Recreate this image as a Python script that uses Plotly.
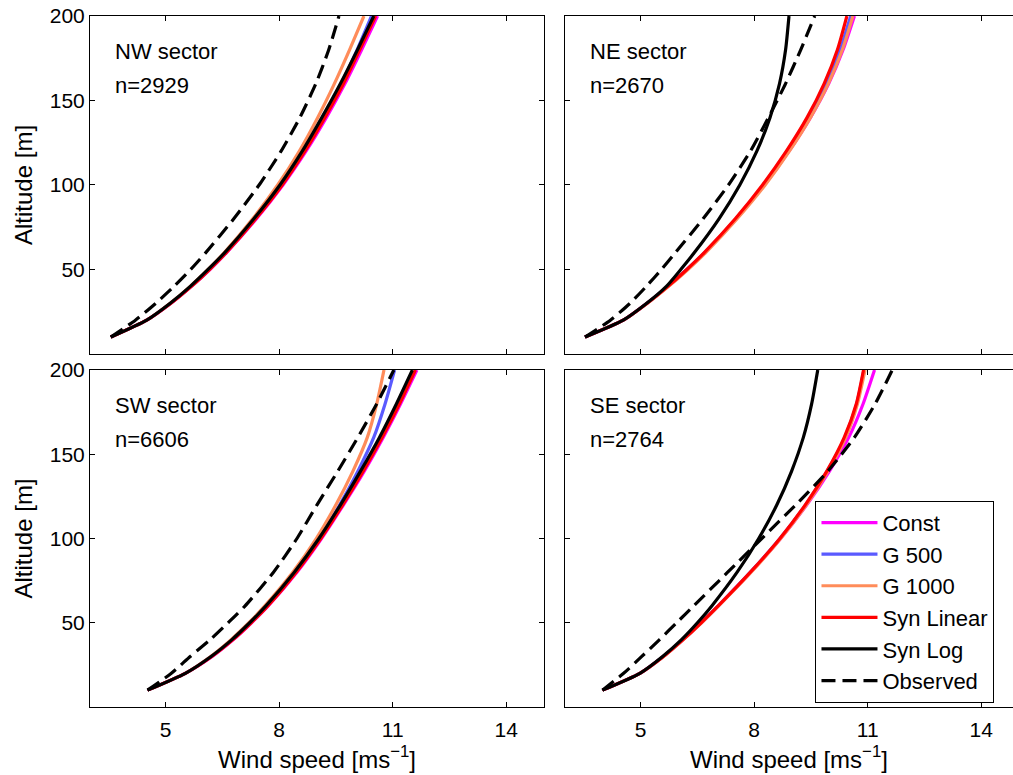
import plotly.graph_objects as go

# ---------------- data ----------------
altitude = [10, 20, 30, 40, 50, 60, 80, 100, 120, 140, 160, 180, 200]
series_names = ["Const", "G 500", "G 1000", "Syn Linear", "Syn Log", "Observed"]
x_ticks = [5, 8, 11, 14]
y_ticks = [50, 100, 150, 200]

sector_labels = ["NW sector", "NE sector", "SW sector", "SE sector"]
sector_counts = ["n=2929", "n=2670", "n=6606", "n=2764"]

nw_const  = [3.55, 4.50, 5.14, 5.68, 6.17, 6.61, 7.40, 8.10, 8.71, 9.25, 9.74, 10.18, 10.60]
nw_g500   = [3.55, 4.50, 5.13, 5.67, 6.15, 6.59, 7.37, 8.05, 8.65, 9.17, 9.64, 10.06, 10.44]
nw_g1000  = [3.55, 4.50, 5.12, 5.65, 6.12, 6.55, 7.30, 7.96, 8.53, 9.02, 9.46, 9.86, 10.24]
nw_synlin = [3.55, 4.50, 5.14, 5.68, 6.16, 6.60, 7.38, 8.08, 8.68, 9.21, 9.70, 10.13, 10.55]
nw_synlog = [3.55, 4.50, 5.12, 5.65, 6.12, 6.56, 7.33, 8.02, 8.61, 9.13, 9.62, 10.07, 10.50]
nw_obs    = [3.55, 4.20, 4.74, 5.22, 5.66, 6.06, 6.80, 7.47, 8.05, 8.55, 8.97, 9.31, 9.58]

ne_const  = [3.53, 4.54, 5.17, 5.72, 6.23, 6.70, 7.53, 8.27, 8.92, 9.49, 9.97, 10.35, 10.65]
ne_g500   = [3.53, 4.54, 5.17, 5.72, 6.22, 6.69, 7.52, 8.25, 8.89, 9.45, 9.91, 10.27, 10.55]
ne_g1000  = [3.53, 4.54, 5.18, 5.74, 6.25, 6.72, 7.55, 8.29, 8.93, 9.49, 9.96, 10.33, 10.61]
ne_synlin = [3.53, 4.54, 5.17, 5.72, 6.22, 6.68, 7.50, 8.22, 8.85, 9.40, 9.85, 10.20, 10.45]
ne_synlog = [3.53, 4.54, 5.16, 5.68, 6.06, 6.42, 7.07, 7.62, 8.07, 8.42, 8.67, 8.83, 8.92]
ne_obs    = [3.53, 4.20, 4.72, 5.15, 5.55, 5.92, 6.65, 7.32, 7.90, 8.38, 8.83, 9.23, 9.60]

sw_const  = [4.52, 5.52, 6.23, 6.79, 7.27, 7.71, 8.47, 9.12, 9.70, 10.25, 10.75, 11.21, 11.64]
sw_g500   = [4.52, 5.52, 6.20, 6.75, 7.22, 7.65, 8.40, 9.05, 9.60, 10.08, 10.50, 10.80, 11.05]
sw_g1000  = [4.52, 5.52, 6.19, 6.73, 7.20, 7.62, 8.36, 8.98, 9.50, 9.95, 10.33, 10.58, 10.77]
sw_synlin = [4.52, 5.52, 6.22, 6.78, 7.26, 7.70, 8.45, 9.10, 9.68, 10.22, 10.72, 11.18, 11.60]
sw_synlog = [4.52, 5.52, 6.20, 6.75, 7.22, 7.65, 8.40, 9.05, 9.62, 10.15, 10.65, 11.10, 11.52]
sw_obs    = [4.52, 5.15, 5.65, 6.18, 6.65, 7.10, 7.85, 8.47, 9.00, 9.55, 10.08, 10.58, 11.03]

se_const  = [3.99, 4.98, 5.60, 6.12, 6.60, 7.05, 7.91, 8.70, 9.39, 9.99, 10.50, 10.88, 11.18]
se_g500   = [3.99, 4.98, 5.60, 6.12, 6.60, 7.05, 7.90, 8.68, 9.36, 9.93, 10.40, 10.71, 10.90]
se_g1000  = [3.99, 4.98, 5.61, 6.13, 6.61, 7.06, 7.92, 8.70, 9.38, 9.95, 10.42, 10.73, 10.93]
se_synlin = [3.99, 4.98, 5.60, 6.12, 6.60, 7.05, 7.90, 8.68, 9.35, 9.92, 10.38, 10.70, 10.89]
se_synlog = [3.99, 4.98, 5.58, 6.08, 6.50, 6.88, 7.55, 8.12, 8.60, 8.99, 9.30, 9.52, 9.68]
se_obs    = [3.99, 4.55, 5.03, 5.50, 5.95, 6.40, 7.30, 8.20, 9.10, 9.95, 10.65, 11.20, 11.65]

sectors = [
    [nw_const, nw_g500, nw_g1000, nw_synlin, nw_synlog, nw_obs],
    [ne_const, ne_g500, ne_g1000, ne_synlin, ne_synlog, ne_obs],
    [sw_const, sw_g500, sw_g1000, sw_synlin, sw_synlog, sw_obs],
    [se_const, se_g500, se_g1000, se_synlin, se_synlog, se_obs],
]

# ---------------- styles ----------------
colors = ["#FF00FF", "#5A5AFF", "#FF8C5A", "#FF0000", "#000000", "#000000"]
dashes = ["solid", "solid", "solid", "solid", "solid", "14px,7px"]
FONT = "Liberation Sans, Arial, sans-serif"

fig = go.Figure()
for i, series in enumerate(sectors):
    ax = "" if i == 0 else str(i + 1)
    for j, vals in enumerate(series):
        fig.add_trace(go.Scatter(
            x=vals, y=altitude, mode="lines",
            name=series_names[j], legendgroup=series_names[j],
            showlegend=(i == 3),
            line=dict(color=colors[j], width=3.2, dash=dashes[j],
                      shape="spline", smoothing=0.6),
            xaxis="x" + ax, yaxis="y" + ax, hoverinfo="skip",
        ))

x_dom = [[0.0, 0.4919], [0.5146, 1.0], [0.0, 0.4919], [0.5146, 1.0]]
y_dom = [[0.5109, 1.0], [0.5109, 1.0], [0.0, 0.4877], [0.0, 0.4877]]
x_rng = [[3, 15], [3, 14.84], [3, 15], [3, 14.84]]

layout = dict(
    width=1013, height=775,
    margin=dict(l=90, r=0, t=16, b=68),
    paper_bgcolor="white", plot_bgcolor="white",
    font=dict(family=FONT, color="black", size=21),
    legend=dict(x=0.786, y=0.2985, xanchor="left", yanchor="top",
                bgcolor="white", bordercolor="black", borderwidth=1,
                font=dict(size=22, family=FONT, color="black"),
                tracegroupgap=0, itemwidth=56),
)

annotations = []
for i in range(4):
    ax = "" if i == 0 else str(i + 1)
    bottom = i >= 2
    left = i % 2 == 0
    xa = dict(
        domain=x_dom[i], range=x_rng[i], anchor="y" + ax,
        tickvals=x_ticks, showticklabels=bottom,
        ticks="inside", ticklen=5, tickwidth=1, tickcolor="black",
        showline=True, linecolor="black", linewidth=1, mirror="ticks",
        showgrid=False, zeroline=False,
        tickfont=dict(size=21, family=FONT, color="black"),
    )
    if bottom:
        xa["ticklabelstandoff"] = 4
        xa["title"] = dict(text="Wind speed [ms<sup>\u22121</sup>]",
                           font=dict(size=24, family=FONT, color="black"), standoff=10)
    ya = dict(
        domain=y_dom[i], range=[0, 200], anchor="x" + ax,
        tickvals=y_ticks, showticklabels=left,
        ticks="inside", ticklen=5, tickwidth=1, tickcolor="black",
        showline=True, linecolor="black", linewidth=1,
        mirror="ticks" if left else False,
        showgrid=False, zeroline=False,
        tickfont=dict(size=21, family=FONT, color="black"),
    )
    if left:
        ya["title"] = dict(text="Altitude [m]",
                           font=dict(size=24, family=FONT, color="black"), standoff=10)
    layout["xaxis" + ax] = xa
    layout["yaxis" + ax] = ya
    for txt, yy in ((sector_labels[i], 0.895), (sector_counts[i], 0.795)):
        annotations.append(dict(
            text=txt, x=0.051, y=yy, xref="x" + ax + " domain", yref="y" + ax + " domain",
            xanchor="left", yanchor="middle", showarrow=False,
            font=dict(size=22, family=FONT, color="black"),
        ))

layout["annotations"] = annotations
fig.update_layout(**layout)
fig.write_html("out.html")
